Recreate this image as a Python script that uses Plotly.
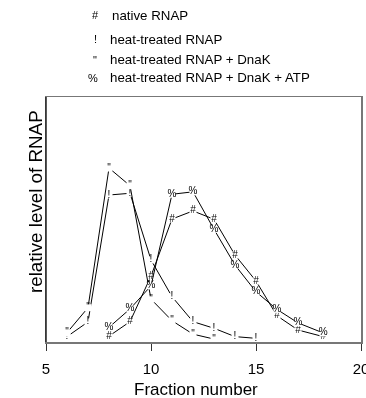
import plotly.graph_objects as go

# ---- data ----
fraction_native = [8, 9, 10, 11, 12, 13, 14, 15, 16, 17, 18.2]
level_native = [2.4, 8.3, 26.9, 50.2, 53.5, 50.1, 35.5, 24.9, 10.7, 4.9, 2.2]

fraction_heat = [6, 7, 8, 9, 10, 11, 12, 13, 14, 15]
level_heat = [2.2, 8.2, 60.0, 60.7, 33.5, 18.5, 8.3, 5.6, 2.2, 1.5]

fraction_dnak = [6, 7, 8, 9, 10, 11, 12, 13]
level_dnak = [3.8, 14.0, 71.0, 63.8, 17.5, 8.7, 3.2, 1.2]

fraction_atp = [8, 9, 10, 11, 12, 13, 14, 15, 16, 17, 18.2]
level_atp = [6.0, 13.5, 22.9, 60.3, 61.3, 46.0, 31.4, 20.5, 13.3, 7.8, 3.7]

series_names = ["native RNAP", "heat-treated RNAP",
                "heat-treated RNAP + DnaK", "heat-treated RNAP + DnaK + ATP"]
series_symbols = ["#", "!", "\"", "%"]

x_tick_vals = [5, 10, 15, 20]
x_tick_text = ["5", "10", "15", "20"]

FONT = "Liberation Sans, Arial, Helvetica, sans-serif"

fig = go.Figure()
series = [
    (fraction_native, level_native),
    (fraction_heat, level_heat),
    (fraction_dnak, level_dnak),
    (fraction_atp, level_atp),
]
for (xs, ys), name, sym in zip(series, series_names, series_symbols):
    fig.add_trace(go.Scatter(
        x=xs, y=ys, name=name,
        mode="lines+markers+text",
        line=dict(color="black", width=1),
        marker=dict(symbol="square", size=7, color="white", line=dict(width=0)),
        text=[sym] * len(xs),
        textposition="middle center",
        textfont=dict(family=FONT, size=10, color="#000000"),
        cliponaxis=False,
        showlegend=False,
        hoverinfo="skip",
    ))

L, R, T, B = 46, 5, 97, 56
W, H = 366, 398
pw, ph = W - L - R, H - T - B


def px_x(px):
    return (px - L) / pw


def px_y(py):
    return (H - B - py) / ph


annotations = []
legend_rows = [(15, 95, 110), (39, 95, 108), (60, 95, 108), (78, 93, 108)]
for (row_y, sx, tx), name, sym in zip(legend_rows, series_names, series_symbols):
    annotations.append(dict(xref="paper", yref="paper", x=px_x(sx), y=px_y(row_y),
                            text=sym, showarrow=False, xanchor="center", yanchor="middle",
                            font=dict(family=FONT, size=11, color="black")))
    annotations.append(dict(xref="paper", yref="paper", x=px_x(tx), y=px_y(row_y),
                            text=name, showarrow=False, xanchor="left", yanchor="middle",
                            font=dict(family=FONT, size=13.3, color="black")))

annotations.append(dict(xref="paper", yref="paper", x=px_x(196), y=px_y(389),
                        text="Fraction number", showarrow=False, xanchor="center",
                        yanchor="middle", font=dict(family=FONT, size=17, color="black")))
annotations.append(dict(xref="paper", yref="paper", x=px_x(35), y=px_y(202),
                        text="relative level of RNAP", showarrow=False, textangle=-90,
                        xanchor="center", yanchor="middle",
                        font=dict(family=FONT, size=18.8, color="black")))

fig.update_layout(
    width=W, height=H,
    margin=dict(l=L, r=R, t=T, b=B, pad=0, autoexpand=False),
    paper_bgcolor="white", plot_bgcolor="white",
    font=dict(family=FONT, color="black"),
    annotations=annotations,
    hovermode=False,
    shapes=[dict(type="line", xref="paper", yref="paper", x0=0, x1=0, y0=0, y1=1,
                 line=dict(color="#222222", width=1.5))],
    xaxis=dict(range=[5, 20], tickvals=x_tick_vals, ticktext=x_tick_text,
               ticks="outside", ticklen=7, tickwidth=1, tickcolor="#333333",
               ticklabelstandoff=5, ticklabeloverflow="allow", automargin=False,
               showline=True, linecolor="#777777", linewidth=1.5, mirror=True,
               showgrid=False, zeroline=False,
               tickfont=dict(family=FONT, size=15, color="black")),
    yaxis=dict(range=[0, 100], showticklabels=False, ticks="", automargin=False,
               showline=True, linecolor="#777777", linewidth=1.5, mirror=True,
               showgrid=False, zeroline=False),
)

fig.write_html(
    "out.html",
    config={"displayModeBar": False, "staticPlot": True},
    post_script=("document.body.style.margin='0';"
                 "document.body.style.overflow='hidden';"
                 "document.querySelectorAll('.js-plotly-plot').forEach(function(e){"
                 "e.style.willChange='transform';});"),
)
